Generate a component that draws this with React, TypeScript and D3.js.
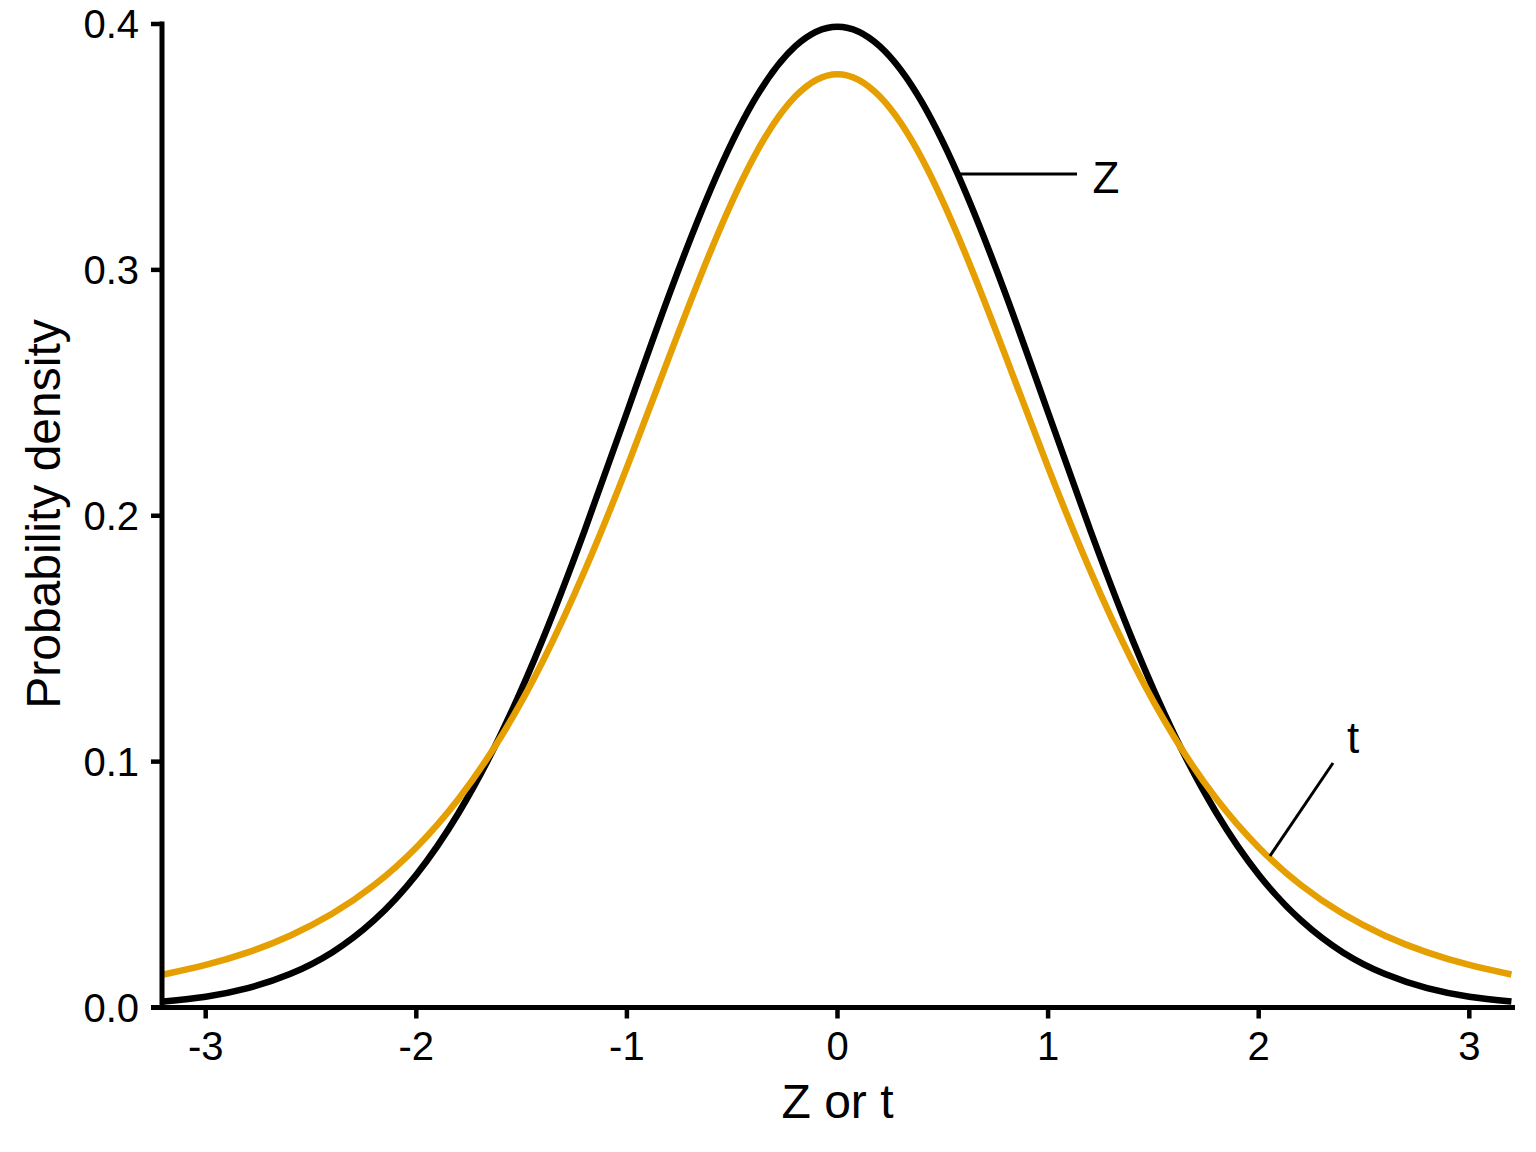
import React from "react";
import * as d3 from "d3";

const xValues = [-3.2, -3.0, -2.8, -2.6, -2.4, -2.2, -2.0, -1.8, -1.6, -1.4, -1.2, -1.0, -0.8, -0.6, -0.4, -0.2, 0.0, 0.2, 0.4, 0.6, 0.8, 1.0, 1.2, 1.4, 1.6, 1.8, 2.0, 2.2, 2.4, 2.6, 2.8, 3.0, 3.2];
const zDensity = [0.0024, 0.0044, 0.0079, 0.0136, 0.0224, 0.0355, 0.054, 0.079, 0.1109, 0.1497, 0.1942, 0.242, 0.2897, 0.3332, 0.3683, 0.391, 0.3989, 0.391, 0.3683, 0.3332, 0.2897, 0.242, 0.1942, 0.1497, 0.1109, 0.079, 0.054, 0.0355, 0.0224, 0.0136, 0.0079, 0.0044, 0.0024];
const tDensity = [0.0134, 0.0173, 0.0224, 0.0292, 0.0381, 0.0498, 0.0651, 0.0848, 0.1098, 0.1407, 0.1777, 0.2197, 0.2645, 0.3081, 0.3454, 0.3706, 0.3796, 0.3706, 0.3454, 0.3081, 0.2645, 0.2197, 0.1777, 0.1407, 0.1098, 0.0848, 0.0651, 0.0498, 0.0381, 0.0292, 0.0224, 0.0173, 0.0134];
const xTicks = [-3, -2, -1, 0, 1, 2, 3];
const yTicks = [0.0, 0.1, 0.2, 0.3, 0.4];
const xTitle = "Z or t";
const yTitle = "Probability density";

export default function App() {
  const W = 1536, H = 1152;
  const x = d3.scaleLinear().domain([-3, 3]).range([205.7, 1469.3]);
  const y = d3.scaleLinear().domain([0, 0.4]).range([1007.5, 24]);
  const axL = 162, axR = 1515, axB = 1007.5, axT = 21.5;
  const line = d3.line<[number, number]>().x(d => x(d[0])).y(d => y(d[1])).curve(d3.curveNatural);
  const zPath = line(xValues.map((v, i) => [v, zDensity[i]]) as [number, number][]) || "";
  const tPath = line(xValues.map((v, i) => [v, tDensity[i]]) as [number, number][]) || "";
  const font = "Arial, 'Liberation Sans', sans-serif";
  return (
    <svg width={W} height={H} style={{ position: "absolute", left: 0, top: 0, background: "#fff" }} fontFamily={font}>
      <rect x={0} y={0} width={W} height={H} fill="#fff" />
      <path d={zPath} fill="none" stroke="#000" strokeWidth={6.5} />
      <path d={tPath} fill="none" stroke="#E69F00" strokeWidth={6.5} />
      {/* axes */}
      <line x1={151} x2={axR} y1={axB} y2={axB} stroke="#000" strokeWidth={5} />
      <line x1={axL} x2={axL} y1={axT} y2={axB + 2.5} stroke="#000" strokeWidth={5} />
      {xTicks.map(t => (
        <g key={"x" + t}>
          <line x1={x(t)} x2={x(t)} y1={axB} y2={axB + 11} stroke="#000" strokeWidth={4.5} />
          <text x={x(t)} y={1060} fontSize={40} textAnchor="middle">{t === 0 ? "0" : (t < 0 ? "-" + Math.abs(t) : String(t))}</text>
        </g>
      ))}
      {yTicks.map(t => (
        <g key={"y" + t}>
          <line x1={axL - 11} x2={axL} y1={y(t)} y2={y(t)} stroke="#000" strokeWidth={4.5} />
          <text x={139} y={y(t)} dy="0.36em" fontSize={40} textAnchor="end">{t.toFixed(1)}</text>
        </g>
      ))}
      <text x={837.5} y={1118} fontSize={48} textAnchor="middle">{xTitle}</text>
      <text transform={`translate(60,${(21 + 1007) / 2}) rotate(-90)`} fontSize={48} textAnchor="middle">{yTitle}</text>
      {/* annotations */}
      <line x1={960} x2={1077} y1={174} y2={174} stroke="#000" strokeWidth={3} />
      <text x={1106} y={193} fontSize={44} textAnchor="middle">Z</text>
      <line x1={1333} x2={1270} y1={763} y2={856} stroke="#000" strokeWidth={3} />
      <text x={1353} y={753} fontSize={44} textAnchor="middle">t</text>
    </svg>
  );
}
